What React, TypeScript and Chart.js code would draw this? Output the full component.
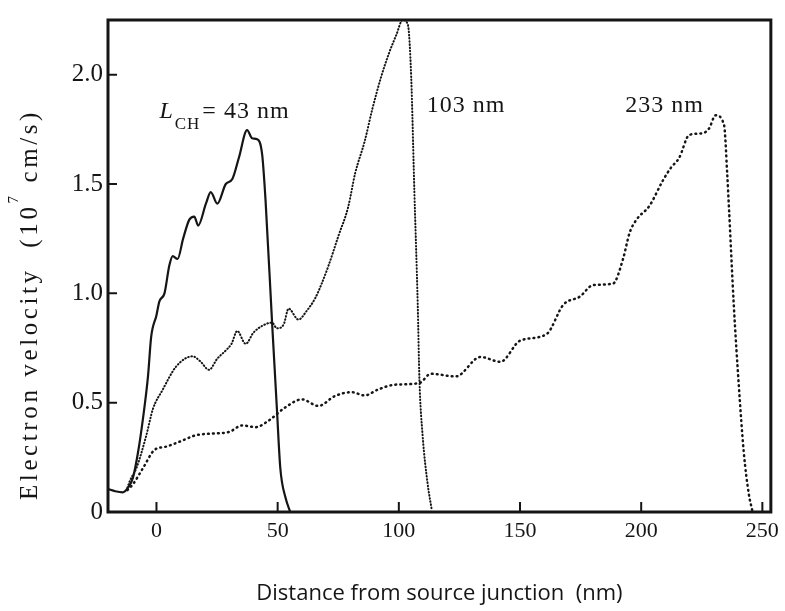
import React, { useEffect, useRef } from "react";
import { Chart, registerables } from "chart.js";

Chart.register(...registerables);

// ---- data ----
const xTicks = [0, 50, 100, 150, 200, 250];
const yTicks = [0, 0.5, 1.0, 1.5, 2.0];
const yTickLabels = ["0", "0.5", "1.0", "1.5", "2.0"];

const seriesLabels = ["43 nm", "103 nm", "233 nm"];

const x43 = [-20, -17, -14, -11.5, -9.7, -7.5, -5.6, -3.5, -2.2, 0, 1.2, 3.3, 5.3, 6.7, 8.7, 11, 13.5, 15.6, 17.2, 20.4, 22.4, 25.1, 28.6, 31.3, 34, 37.4, 39.5, 41.5, 43.6, 45, 47.7, 49.7, 51.1, 53.2, 55.2];
const y43 = [0.105, 0.095, 0.09, 0.115, 0.157, 0.28, 0.425, 0.62, 0.8, 0.9, 0.963, 1.0, 1.127, 1.17, 1.157, 1.25, 1.336, 1.351, 1.31, 1.41, 1.463, 1.41, 1.5, 1.523, 1.62, 1.746, 1.709, 1.705, 1.635, 1.426, 0.866, 0.47, 0.2, 0.067, 0.0];

const x103 = [-12, -11, -8.3, -4.2, -1.5, 2.6, 8.1, 14.9, 18, 21.7, 25, 28.6, 31, 33.3, 36.8, 40, 43.6, 47.7, 49.7, 52.5, 54.5, 58.6, 62, 65.5, 68, 71, 75, 79.1, 82, 85.9, 89, 92.7, 96, 98.9, 101.6, 103.7, 105.1, 106.4, 107.8, 108.5, 109.8, 111.9, 113.5];
const y103 = [0.11, 0.142, 0.2, 0.35, 0.47, 0.56, 0.665, 0.712, 0.69, 0.65, 0.7, 0.739, 0.77, 0.828, 0.769, 0.82, 0.851, 0.866, 0.84, 0.858, 0.93, 0.88, 0.92, 0.978, 1.04, 1.127, 1.26, 1.395, 1.55, 1.695, 1.84, 1.99, 2.1, 2.18, 2.25, 2.23, 1.99, 1.47, 0.948, 0.605, 0.352, 0.128, 0.016];

const x233 = [-12, -9.7, -5.6, -0.8, 4, 9.4, 16.3, 21.7, 29.9, 35.4, 40.9, 46.3, 53.1, 60, 66.8, 73.6, 80.5, 85.9, 91.4, 98.2, 108.5, 113.2, 123.5, 133.7, 141.9, 150.1, 161, 167.9, 174.7, 180.2, 188.4, 192.5, 195.2, 198, 203.4, 208.9, 212.3, 215.7, 219.8, 225.3, 228, 230.7, 234.2, 235.5, 236.2, 238.2, 240.3, 242.3, 244.4, 245.8];
const y233 = [0.1, 0.127, 0.2, 0.284, 0.299, 0.321, 0.351, 0.358, 0.366, 0.396, 0.388, 0.418, 0.478, 0.515, 0.485, 0.53, 0.548, 0.533, 0.56, 0.582, 0.59, 0.632, 0.62, 0.709, 0.687, 0.784, 0.814, 0.948, 0.985, 1.038, 1.045, 1.157, 1.276, 1.336, 1.4, 1.515, 1.575, 1.62, 1.724, 1.732, 1.754, 1.814, 1.769, 1.545, 1.395, 0.948, 0.575, 0.276, 0.082, 0.008];

const xTitle = "Distance from source junction  (nm)";
const yTitleMain = "Electron velocity  (10";
const yTitleSup = "7";
const yTitleEnd = " cm/s)";

const INK = "#151515";
const SERIF = "'Liberation Serif', 'Times New Roman', serif";

function pts(xs: number[], ys: number[]) {
  return xs.map((x, i) => ({ x, y: ys[i] }));
}

const decorPlugin = {
  id: "decor",
  afterDatasetsDraw(chart: any) {
    const { ctx, chartArea: a, scales } = chart;
    const sx = scales.x;
    const sy = scales.y;
    ctx.save();
    // frame
    ctx.strokeStyle = INK;
    ctx.lineWidth = 3;
    ctx.strokeRect(a.left, a.top, a.right - a.left, a.bottom - a.top);
    // inward ticks
    ctx.lineWidth = 2;
    ctx.beginPath();
    for (const v of xTicks) {
      const px = sx.getPixelForValue(v);
      ctx.moveTo(px, a.bottom);
      ctx.lineTo(px, a.bottom - 10);
    }
    for (const v of yTicks) {
      const py = sy.getPixelForValue(v);
      ctx.moveTo(a.left, py);
      ctx.lineTo(a.left + 9, py);
    }
    ctx.stroke();

    // annotations
    ctx.fillStyle = INK;
    ctx.textBaseline = "alphabetic";
    ctx.textAlign = "left";
    (ctx as any).letterSpacing = "1px";
    // L_CH = 43 nm
    let x = sx.getPixelForValue(1.2);
    const by = sy.getPixelForValue(1.8);
    ctx.font = `italic 24px ${SERIF}`;
    ctx.fillText("L", x, by);
    x += ctx.measureText("L").width + 1;
    ctx.font = `17px ${SERIF}`;
    ctx.fillText("CH", x, by + 11);
    x += ctx.measureText("CH").width + 2;
    ctx.font = `24px ${SERIF}`;
    ctx.fillText("= 43 nm", x, by);
    ctx.fillText("103 nm", sx.getPixelForValue(111.5), sy.getPixelForValue(1.83));
    ctx.fillText("233 nm", sx.getPixelForValue(193.4), sy.getPixelForValue(1.83));

    // y axis title with superscript
    ctx.save();
    ctx.translate(37, 500);
    ctx.rotate(-Math.PI / 2);
    (ctx as any).letterSpacing = "3.6px";
    ctx.font = `25px ${SERIF}`;
    let t = 0;
    ctx.fillText(yTitleMain, t, 0);
    t += ctx.measureText(yTitleMain).width;
    ctx.font = `15px ${SERIF}`;
    ctx.fillText(yTitleSup, t, -19);
    t += ctx.measureText(yTitleSup).width;
    ctx.font = `25px ${SERIF}`;
    ctx.fillText(yTitleEnd, t, 0);
    ctx.restore();

    ctx.restore();
  },
};

export default function App() {
  const ref = useRef<HTMLCanvasElement | null>(null);
  useEffect(() => {
    if (!ref.current) return;
    const common = {
      pointRadius: 0,
      borderColor: INK,
      fill: false,
      cubicInterpolationMode: "monotone" as const,
    };
    const chart = new Chart(ref.current, {
      type: "line",
      data: {
        datasets: [
          { ...common, label: seriesLabels[0], data: pts(x43, y43), borderWidth: 2.2 },
          { ...common, label: seriesLabels[1], data: pts(x103, y103), borderWidth: 2, borderDash: [0.6, 2.6], borderCapStyle: "round" },
          { ...common, label: seriesLabels[2], data: pts(x233, y233), borderWidth: 2.5, borderDash: [0.8, 4.2], borderCapStyle: "round" },
        ],
      },
      options: {
        responsive: false,
        animation: false,
        devicePixelRatio: 1,
        layout: { padding: { top: 10, right: 10, left: 0, bottom: 0 } },
        plugins: { legend: { display: false }, tooltip: { enabled: false } },
        scales: {
          x: {
            type: "linear",
            min: -20,
            max: 253.5,
            grid: { display: false, drawTicks: false },
            border: { display: false },
            afterFit: (s: any) => { s.height = 99; },
            afterBuildTicks: (s: any) => { s.ticks = xTicks.map((v) => ({ value: v })); },
            ticks: {
              color: INK,
              padding: 6,
              font: { family: SERIF, size: 22 },
              callback: (v: any) => String(v),
            },
            title: {
              display: true,
              text: xTitle,
              color: INK,
              font: { family: "'Open Sans', sans-serif", size: 22 },
              padding: { top: 0, bottom: 4 },
            },
          },
          y: {
            type: "linear",
            min: 0,
            max: 2.25,
            grid: { display: false, drawTicks: false },
            border: { display: false },
            afterFit: (s: any) => { s.width = 108; },
            afterBuildTicks: (s: any) => { s.ticks = yTicks.map((v) => ({ value: v })); },
            ticks: {
              color: INK,
              padding: 5,
              font: { family: SERIF, size: 25 },
              callback: (v: any) => {
                const i = yTicks.indexOf(Number(v));
                return i >= 0 ? yTickLabels[i] : "";
              },
            },
          },
        },
      },
      plugins: [decorPlugin],
    });
    return () => chart.destroy();
  }, []);
  return (
    <div style={{ position: "absolute", left: 0, top: 0, width: 785, height: 611, background: "#fff" }}>
      <canvas ref={ref} width={785} height={611} style={{ display: "block" }} />
    </div>
  );
}
